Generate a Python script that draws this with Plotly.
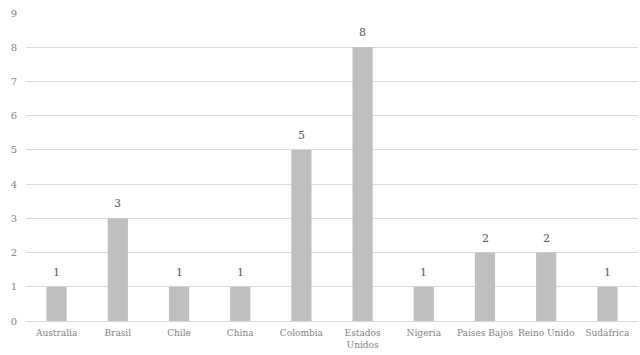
import plotly.graph_objects as go

categories = ["Australia", "Brasil", "Chile", "China", "Colombia", "Estados<br>Unidos",
              "Nigeria", "Países Bajos", "Reino Unido", "Sudáfrica"]
values = [1, 3, 1, 1, 5, 8, 1, 2, 2, 1]
y_ticks = list(range(0, 10))

FONT = "DejaVu Serif"
TXT = "#7F7F7F"

fig = go.Figure()
fig.add_trace(go.Bar(x=categories, y=values, marker_color="#BFBFBF",
                     marker_line_width=0, width=0.33))
for c, v in zip(categories, values):
    fig.add_annotation(x=c, y=v, text=str(v), showarrow=False, yanchor="bottom",
                       yshift=6, font=dict(family=FONT, size=11, color="#595959"))

fig.update_layout(
    width=640, height=355,
    margin=dict(l=26, r=2, t=13, b=34),
    paper_bgcolor="white", plot_bgcolor="white",
    showlegend=False,
    font=dict(family=FONT, size=9, color=TXT),
    bargap=0.67,
)
fig.update_xaxes(showgrid=False, showline=False, ticks="", ticklabelstandoff=5, tickangle=0,
                 tickfont=dict(family=FONT, size=9, color=TXT))
fig.update_yaxes(range=[0, 9], tickvals=y_ticks, showgrid=True, gridcolor="#D9D9D9",
                 gridwidth=1, zeroline=True, zerolinecolor="#D9D9D9", zerolinewidth=1,
                 ticks="", ticklabelstandoff=8, tickfont=dict(family=FONT, size=10, color=TXT))
fig.write_html("out.html")
